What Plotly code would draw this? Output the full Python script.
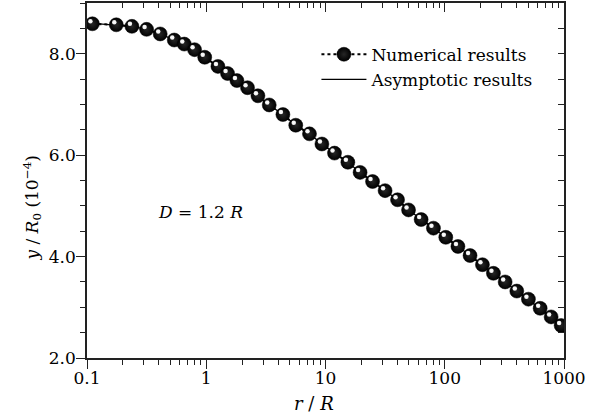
import plotly.graph_objects as go

# r/R values (log-spaced)
r_over_R = [0.111, 0.176, 0.238, 0.316, 0.411, 0.539, 0.654, 0.798, 0.971,
            1.253, 1.509, 1.808, 2.219, 2.713, 3.374, 4.394, 5.63, 7.34, 9.33,
            11.9, 15.4, 19.5, 24.8, 31.6, 40.2, 49.7, 63.4, 80.4, 102,
            129, 163, 207, 256, 321, 402, 503, 631, 780, 946]
# y/R0 (1e-4) numerical results
y_numerical = [8.59, 8.57, 8.54, 8.48, 8.39, 8.27, 8.19, 8.08, 7.93,
               7.75, 7.61, 7.47, 7.33, 7.17, 6.99, 6.80, 6.59, 6.42, 6.22,
               6.04, 5.86, 5.66, 5.48, 5.30, 5.12, 4.92, 4.73, 4.56, 4.38,
               4.20, 4.02, 3.84, 3.67, 3.50, 3.32, 3.16, 2.98, 2.81, 2.64]
# asymptotic results (coincide with numerical within reading accuracy)
y_asymptotic = [8.60, 8.57, 8.54, 8.48, 8.39, 8.27, 8.19, 8.08, 7.93,
                7.75, 7.61, 7.47, 7.33, 7.17, 6.99, 6.80, 6.59, 6.42, 6.22,
                6.04, 5.86, 5.66, 5.48, 5.30, 5.12, 4.92, 4.73, 4.56, 4.38,
                4.20, 4.02, 3.84, 3.67, 3.50, 3.32, 3.16, 2.98, 2.81, 2.64]

x_tickvals = [0.1, 1, 10, 100, 1000]
x_ticktext = ["0.1", "1", "10", "100", "1000"]
y_tickvals = [2.0, 4.0, 6.0, 8.0]
y_ticktext = ["2.0", "4.0", "6.0", "8.0"]

FONT = "DejaVu Serif"
AX = "#222222"

xrange = [-1, 3]
yrange = [2.0, 9.0]
# pixel offset of the specular highlight on each ball (up-left), expressed in axis units
hx = 2.0 / 119.3
hy = 2.5 / 50.8

fig = go.Figure()
fig.add_trace(go.Scatter(
    x=r_over_R, y=y_asymptotic, mode="lines", name="Asymptotic results",
    line=dict(color="black", width=1.3), legendrank=2))
fig.add_trace(go.Scatter(
    x=r_over_R, y=y_numerical, mode="lines+markers", name="Numerical results",
    line=dict(color="black", width=2, dash="dot"),
    marker=dict(size=14, color="black", symbol="circle",
                line=dict(color="black", width=0.5),
                gradient=dict(type="radial", color="#262626")),
    legendrank=1))
# highlight spots drawn on a twin axis whose range is nudged by a couple of pixels
fig.add_trace(go.Scatter(
    x=r_over_R, y=y_numerical, mode="markers", xaxis="x3", yaxis="y3",
    marker=dict(size=4.5, color="#eeeeee", line=dict(width=0),
                gradient=dict(type="radial", color="white")),
    showlegend=False, hoverinfo="skip"))

# invisible trace to activate the mirrored (top/right) axes
fig.add_trace(go.Scatter(x=[r_over_R[0]], y=[y_numerical[0]], xaxis="x2", yaxis="y2",
                         mode="markers", marker=dict(opacity=0), showlegend=False,
                         hoverinfo="skip"))

fig.update_layout(
    width=601, height=418,
    margin=dict(l=87, r=37, t=3, b=60, autoexpand=False),
    paper_bgcolor="white", plot_bgcolor="white",
    font=dict(family=FONT, size=17, color="black"),
    showlegend=True,
    legend=dict(x=0.481, y=0.905, xanchor="left", yanchor="top",
                bgcolor="rgba(0,0,0,0)", font=dict(family=FONT, size=17),
                itemwidth=45, tracegroupgap=0),
    xaxis=dict(type="log", range=xrange, tickvals=x_tickvals, ticktext=x_ticktext,
               ticks="outside", ticklen=9, tickwidth=1.2, tickcolor=AX,
               showline=True, linecolor=AX, linewidth=1.5, showgrid=False,
               zeroline=False, automargin=False, ticklabelstandoff=-5,
               minor=dict(ticks="outside", ticklen=5, tickwidth=1.2, tickcolor=AX,
                          dtick="D1", showgrid=False),
               tickfont=dict(size=17)),
    yaxis=dict(range=yrange, tickvals=y_tickvals, ticktext=y_ticktext,
               ticks="outside", ticklen=9, tickwidth=1.2, tickcolor=AX,
               showline=True, linecolor=AX, linewidth=1.5, showgrid=False,
               zeroline=False, automargin=False, ticklabelstandoff=-3,
               minor=dict(ticks="outside", ticklen=5, tickwidth=1.2, tickcolor=AX,
                          dtick=0.5, showgrid=False),
               tickfont=dict(size=17)),
    xaxis2=dict(type="log", range=xrange, overlaying="x", side="top", anchor="y",
                tickvals=x_tickvals, ticks="inside", ticklen=9, tickwidth=1.2,
                tickcolor=AX, showticklabels=False, showline=True, linecolor=AX,
                linewidth=1.5, showgrid=False, zeroline=False, automargin=False,
                minor=dict(ticks="inside", ticklen=5, tickwidth=1.2, tickcolor=AX,
                           dtick="D1", showgrid=False)),
    yaxis2=dict(range=yrange, overlaying="y", side="right", anchor="x",
                tickvals=y_tickvals, ticks="inside", ticklen=6, tickwidth=1.2,
                tickcolor=AX, showticklabels=False, showline=True, linecolor=AX,
                linewidth=1.5, showgrid=False, zeroline=False, automargin=False,
                minor=dict(ticks="inside", ticklen=6, tickwidth=1.2, tickcolor=AX,
                           dtick=0.5, showgrid=False)),
    xaxis3=dict(type="log", range=[xrange[0] + hx, xrange[1] + hx], overlaying="x",
                visible=False, anchor="y3"),
    yaxis3=dict(range=[yrange[0] - hy, yrange[1] - hy], overlaying="y",
                visible=False, anchor="x3"),
    annotations=[
        dict(x=-0.418, y=4.87, xref="x", yref="y", xanchor="left",
             yanchor="middle", showarrow=False,
             text="<i>D</i> = 1.2 <i>R</i>", font=dict(family=FONT, size=17)),
        dict(x=0.476, y=-0.128, xref="paper", yref="paper", xanchor="center",
             yanchor="middle", showarrow=False,
             text="<i>r</i> / <i>R</i>", font=dict(family=FONT, size=18)),
        dict(x=-0.115, y=4.95, xref="paper", yref="y", xanchor="center",
             yanchor="middle", showarrow=False, textangle=-90,
             text="<i>y</i> / <i>R</i><sub>0</sub> (10<sup>−4</sup>)",
             font=dict(family=FONT, size=17)),
    ],
)

fig.write_html("out.html", config={"displayModeBar": False},
               post_script="document.body.style.margin='0px';")
